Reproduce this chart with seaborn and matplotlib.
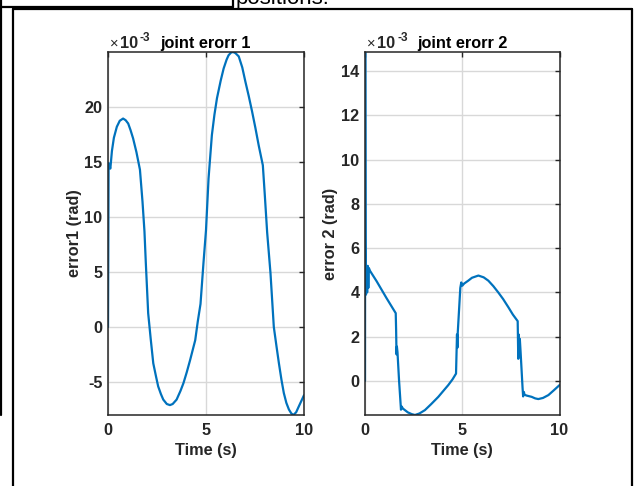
import matplotlib
matplotlib.use("Agg")
import matplotlib.pyplot as plt
import matplotlib.transforms as mtransforms
from matplotlib.lines import Line2D
import pandas as pd
import seaborn as sns

# Joint 1 tracking error (units of 1e-3 rad)
time1 = [0.0, 0.03, 0.07, 0.12, 0.2, 0.3, 0.45, 0.6, 0.77, 0.9, 1.03, 1.15,
         1.28, 1.45, 1.63, 1.76, 1.86, 1.93, 2.05, 2.18, 2.31, 2.45, 2.56, 2.7,
         2.82, 3.0, 3.16, 3.3, 3.5, 3.7, 3.85, 4.02, 4.19, 4.32, 4.45, 4.58,
         4.72, 4.87, 5.0, 5.13, 5.3, 5.43, 5.56, 5.75, 5.9, 6.05, 6.15, 6.28,
         6.38, 6.5, 6.67, 6.85, 7.01, 7.18, 7.35, 7.52, 7.69, 7.9, 8.0, 8.12,
         8.29, 8.46, 8.6, 8.72, 8.85, 8.97, 9.1, 9.23, 9.35, 9.46, 9.6, 9.74,
         9.87, 10.0]
err1 = [0.0, 14.9, 14.6, 14.4, 16.0, 17.2, 18.2, 18.75, 18.95, 18.8, 18.5, 17.9,
        17.15, 15.9, 14.3, 11.4, 8.7, 5.8, 1.25, -1.1, -3.3, -4.5, -5.4, -6.1,
        -6.6, -7.0, -7.1, -7.0, -6.6, -5.8, -5.1, -4.1, -3.0, -2.1, -1.2, 0.5,
        2.1, 5.8, 8.8, 13.5, 17.45, 19.3, 20.8, 22.4, 23.5, 24.3, 24.7, 24.95,
        25.0, 24.9, 24.6, 23.6, 22.3, 21.0, 19.6, 18.1, 16.5, 14.7, 12.0, 8.6,
        4.9, 0.0, -1.8, -3.3, -4.8, -6.0, -6.9, -7.5, -7.85, -8.0, -7.75, -7.2,
        -6.7, -6.2]

# Joint 2 tracking error (units of 1e-3 rad)
time2 = [0.0, 0.01, 0.03, 0.05, 0.08, 0.11, 0.14, 0.17, 0.2, 0.26, 0.6, 1.1,
         1.58, 1.6, 1.62, 1.64, 1.67, 1.75, 1.85, 1.88, 1.95, 2.2, 2.4, 2.57,
         2.8, 3.08, 3.4, 3.77, 4.0, 4.28, 4.5, 4.68, 4.71, 4.73, 4.75, 4.77,
         4.9, 4.95, 5.0, 5.1, 5.31, 5.5, 5.83, 6.1, 6.34, 6.6, 6.85, 7.1, 7.37,
         7.6, 7.85, 7.88, 7.9, 7.93, 7.96, 8.0, 8.1, 8.13, 8.17, 8.2, 8.3,
         8.57, 8.75, 8.91, 9.15, 9.43, 9.7, 10.0]
err2 = [0.0, 14.86, 6.5, 3.9, 5.0, 4.0, 5.2, 4.2, 5.1, 4.97, 4.5, 3.75,
        3.06, 2.3, 1.2, 1.55, 1.3, 0.03, -1.3, -1.15, -1.25, -1.42, -1.5, -1.54,
        -1.47, -1.32, -1.05, -0.72, -0.48, -0.19, 0.07, 0.33, 1.4, 2.1, 1.5, 2.2,
        4.2, 4.45, 4.3, 4.4, 4.53, 4.66, 4.76, 4.68, 4.53, 4.28, 4.0, 3.7, 3.33,
        3.0, 2.7, 1.0, 2.1, 1.2, 1.9, 1.3, -0.3, -0.7, -0.5, -0.62, -0.66,
        -0.72, -0.79, -0.82, -0.77, -0.64, -0.43, -0.19]

xticks = [0, 5, 10]
yticks1 = [-5, 0, 5, 10, 15, 20]
yticks2 = [0, 2, 4, 6, 8, 10, 12, 14]
titles = ["joint erorr 1", "joint erorr 2"]
ylabels = ["error1 (rad)", "error 2 (rad)"]
xlabel = "Time (s)"
scale_parts = ("\u00d7", "10", "-3")
caption = "positions."

sns.set_theme(style="white")
plt.rcParams["font.family"] = ["Liberation Sans", "DejaVu Sans"]
plt.rcParams["axes.unicode_minus"] = False

W, H = 640, 486
fig = plt.figure(figsize=(W / 100, H / 100), dpi=100)
fig.patch.set_facecolor("white")


def frac(x, y):
    return x / W, 1 - y / H


def axes_box(x0, x1, y0, y1):
    return [x0 / W, 1 - y1 / H, (x1 - x0) / W, (y1 - y0) / H]


line_color = "#0072BD"
axis_color = "#262626"
fs = 11.7

panels = [
    (axes_box(108, 304, 52, 415), time1, err1, yticks1, titles[0], ylabels[0]),
    (axes_box(365, 559.5, 52, 415), time2, err2, yticks2, titles[1], ylabels[1]),
]

for box, t, e, yt, title, ylab in panels:
    ax = fig.add_axes(box)
    df = pd.DataFrame({"t": t, "e": e})
    sns.lineplot(data=df, x="t", y="e", ax=ax, sort=False, estimator=None,
                 color=line_color, linewidth=1.6)
    ax.set_xlim(0, 10)
    ax.set_ylim(min(e), max(e))
    ax.set_xticks(xticks)
    ax.set_yticks(yt)
    ax.set_xticklabels([str(v) for v in xticks], fontweight="bold", fontsize=fs)
    ax.set_yticklabels([str(v) for v in yt], fontweight="bold", fontsize=fs)
    ax.tick_params(axis="both", direction="in", length=3.5, width=1.0,
                   color=axis_color, labelcolor=axis_color,
                   top=True, right=True, pad=4)
    ax.tick_params(axis="x", pad=6)
    for s in ax.spines.values():
        s.set_color(axis_color)
        s.set_linewidth(1.1)
    ax.grid(True, color="#d8d8d8", linewidth=1.0)
    ax.set_axisbelow(True)
    ax.set_xlabel(xlabel, fontweight="bold", fontsize=fs, color=axis_color, labelpad=3)
    ax.set_ylabel(ylab, fontweight="bold", fontsize=fs, color=axis_color, labelpad=2)
    ax.set_title(title, fontweight="bold", fontsize=fs, color="black", pad=3)

    # exponent marker above the y axis
    base = ax.transAxes
    ax.text(0, 1, scale_parts[0], fontsize=10.5, color=axis_color, va="baseline",
            ha="left", transform=mtransforms.offset_copy(base, fig, 2, 4, units="dots"))
    ax.text(0, 1, scale_parts[1], fontsize=fs, fontweight="bold", color=axis_color,
            va="baseline", ha="left",
            transform=mtransforms.offset_copy(base, fig, 12, 4, units="dots"))
    ax.text(0, 1, scale_parts[2], fontsize=8.5, fontweight="bold", color=axis_color,
            va="baseline", ha="left",
            transform=mtransforms.offset_copy(base, fig, 32, 11, units="dots"))

# surrounding frame lines
frame_kw = dict(transform=fig.transFigure, color="black", linewidth=1.6)
fig.add_artist(Line2D(*zip(frac(13, 9), frac(632, 9)), **frame_kw))
fig.add_artist(Line2D(*zip(frac(13, 9), frac(13, 490)), **frame_kw))
fig.add_artist(Line2D(*zip(frac(632, 9), frac(632, 490)), **frame_kw))
fig.add_artist(Line2D(*zip(frac(1, -2), frac(1, 415)), **frame_kw))
fig.add_artist(Line2D(*zip(frac(0, 7), frac(233, 7)), **frame_kw))
fig.add_artist(Line2D(*zip(frac(233, 7), frac(233, -2)), **frame_kw))

cx, cy = frac(236, 4)
fig.text(cx, cy, caption, fontsize=16, color="black", ha="left", va="baseline")

fig.savefig("out.png", dpi=100)
